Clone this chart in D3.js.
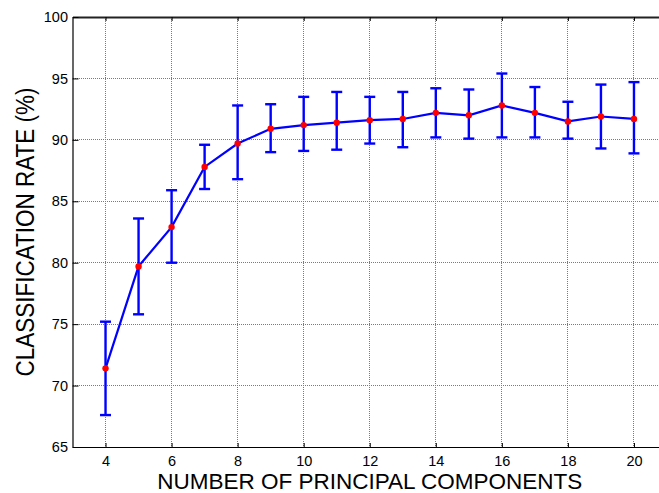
<!DOCTYPE html>
<html>
<head>
<meta charset="utf-8">
<script src="https://cdn.jsdelivr.net/npm/d3@7"></script>
<style>
  html, body { margin: 0; padding: 0; background: #fff; }
  svg { display: block; font-family: "Liberation Sans", Arial, sans-serif; }
</style>
</head>
<body>
<svg id="chart" width="659" height="493"></svg>
<script>
// Number of principal components retained
const components = [4, 5, 6, 7, 8, 9, 10, 11, 12, 13, 14, 15, 16, 17, 18, 19, 20];
// Mean classification rate (%)
const meanRate = [71.4, 79.7, 82.9, 87.8, 89.7, 90.9, 91.2, 91.4, 91.6, 91.7, 92.2, 92.0, 92.8, 92.2, 91.5, 91.9, 91.7];
// Error bar limits (%)
const upperRate = [75.2, 83.6, 85.9, 89.6, 92.8, 92.9, 93.5, 93.9, 93.5, 93.9, 94.2, 94.1, 95.4, 94.3, 93.1, 94.5, 94.7];
const lowerRate = [67.6, 75.8, 80.0, 86.0, 86.8, 89.0, 89.1, 89.2, 89.7, 89.4, 90.2, 90.1, 90.2, 90.2, 90.1, 89.3, 88.9];
// Tick values
const xTicks = [4, 6, 8, 10, 12, 14, 16, 18, 20];
const yTicks = [65, 70, 75, 80, 85, 90, 95, 100];

const svg = d3.select("#chart");
const plotLeft = 72.5, plotRight = 667, plotTop = 17, plotBottom = 447;

const x = d3.scaleLinear().domain([3, 21]).range([plotLeft, plotRight]);
const y = d3.scaleLinear().domain([65, 100]).range([plotBottom, plotTop]);

// Dotted grid lines
const grid = svg.append("g")
  .attr("stroke", "#7a7a7a").attr("stroke-width", 1)
  .attr("stroke-dasharray", "1,1").attr("shape-rendering", "crispEdges");
grid.selectAll("line.vg").data(xTicks).join("line")
  .attr("x1", d => x(d)).attr("x2", d => x(d))
  .attr("y1", plotTop).attr("y2", plotBottom);
grid.selectAll("line.hg").data(yTicks).join("line")
  .attr("x1", plotLeft).attr("x2", plotRight)
  .attr("y1", d => y(d)).attr("y2", d => y(d));

// Axes with inward ticks
const xAxis = svg.append("g").attr("transform", `translate(0,${plotBottom})`)
  .call(d3.axisBottom(x).tickValues(xTicks).tickSizeInner(-4).tickSizeOuter(0).tickPadding(9));
const xTop = svg.append("g").attr("transform", `translate(0,${plotTop})`)
  .call(d3.axisTop(x).tickValues(xTicks).tickSizeInner(-4).tickSizeOuter(0).tickFormat(""));
const yAxis = svg.append("g").attr("transform", `translate(${plotLeft},0)`)
  .call(d3.axisLeft(y).tickValues(yTicks).tickSizeInner(-6).tickSizeOuter(0).tickPadding(4.5));

[xAxis, xTop, yAxis].forEach(g => {
  g.select(".domain").attr("stroke", "#000").attr("stroke-width", 1.2);
  g.selectAll(".tick line").attr("stroke", "#000");
  g.selectAll(".tick text").attr("fill", "#000").attr("font-size", 14.5)
    .attr("font-family", "'Liberation Sans', Arial, sans-serif");
});
xTop.select(".domain").attr("stroke", "#222").attr("stroke-width", 2.2);

// Error bars
const eb = svg.append("g").attr("stroke", "#0000ff").attr("stroke-width", 2.4).attr("fill", "none");
components.forEach((c, i) => {
  eb.append("line").attr("x1", x(c)).attr("x2", x(c))
    .attr("y1", y(upperRate[i])).attr("y2", y(lowerRate[i]));
  [upperRate[i], lowerRate[i]].forEach(v => {
    eb.append("line").attr("x1", x(c) - 5.5).attr("x2", x(c) + 5.5)
      .attr("y1", y(v)).attr("y2", y(v));
  });
});

// Mean line
const line = d3.line().x((d, i) => x(components[i])).y(d => y(d));
svg.append("path").datum(meanRate)
  .attr("d", line).attr("fill", "none")
  .attr("stroke", "#0000ff").attr("stroke-width", 2.2);

// Mean markers
svg.append("g").selectAll("circle").data(meanRate).join("circle")
  .attr("cx", (d, i) => x(components[i])).attr("cy", d => y(d))
  .attr("r", 3.2).attr("fill", "#ff0000");

// Axis titles
svg.append("text")
  .attr("x", (plotLeft + plotRight) / 2).attr("y", 489)
  .attr("text-anchor", "middle").attr("font-size", 22.5).attr("fill", "#000")
  .text("NUMBER OF PRINCIPAL COMPONENTS");
svg.append("text")
  .attr("transform", `translate(34,${(plotTop + plotBottom) / 2}) rotate(-90) scale(1,1.15)`)
  .attr("text-anchor", "middle").attr("font-size", 22.5).attr("fill", "#000")
  .text("CLASSIFICATION RATE (%)");
</script>
</body>
</html>
